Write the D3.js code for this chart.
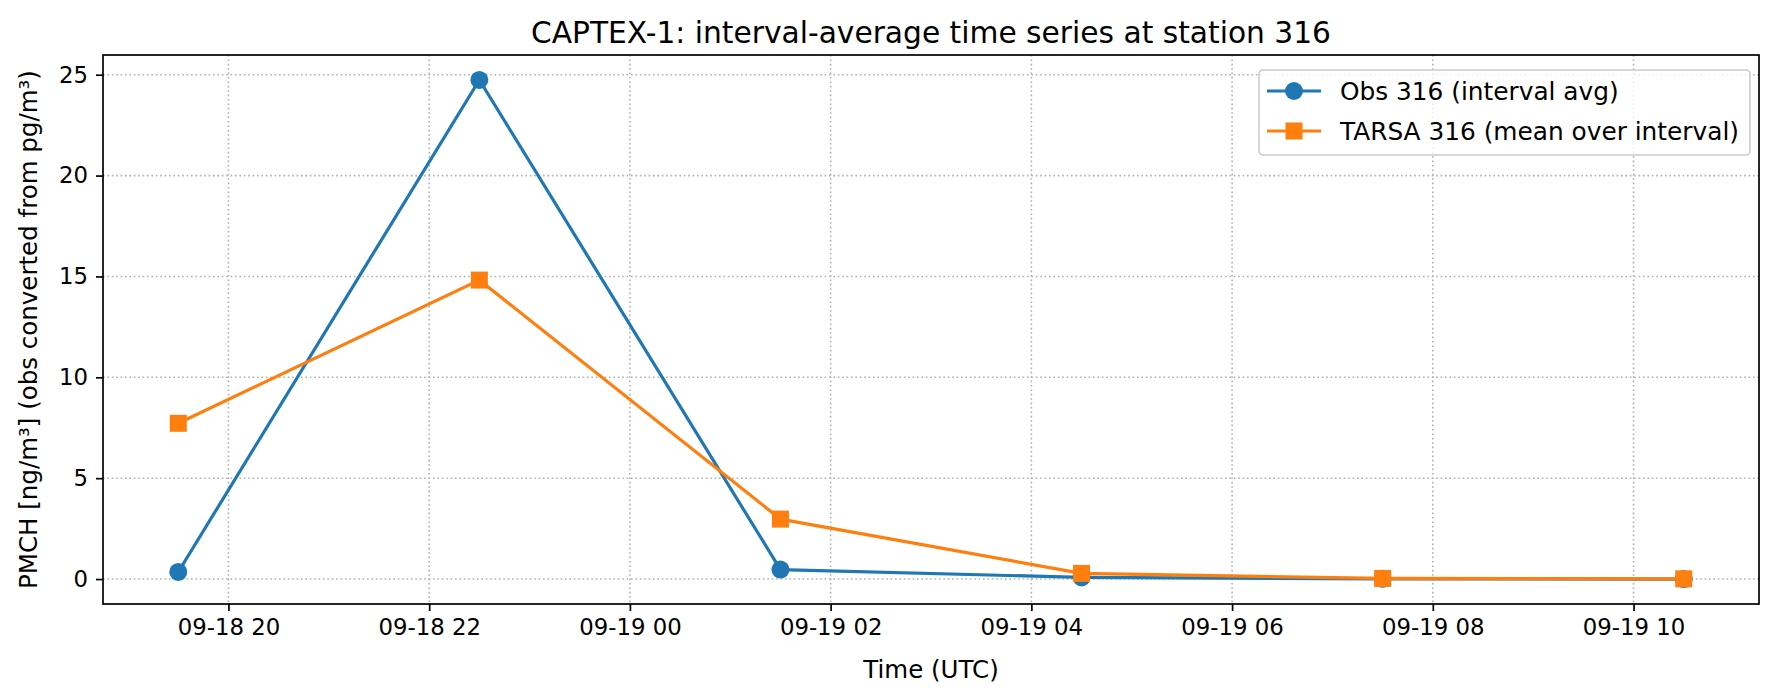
<!DOCTYPE html>
<html>
<head>
<meta charset="utf-8">
<script src="https://cdn.jsdelivr.net/npm/d3@7"></script>
<style>
  body { margin: 0; background: #fff; }
  svg text { font-family: "DejaVu Sans", sans-serif; fill: #000; }
</style>
</head>
<body>
<svg id="chart" width="1780" height="700"></svg>
<script>
"use strict"

// interval midpoints (UTC)
const times = ["1983-09-18T19:30Z", "1983-09-18T22:30Z", "1983-09-19T01:30Z",
               "1983-09-19T04:30Z", "1983-09-19T07:30Z", "1983-09-19T10:30Z"]
const obsValues   = [0.35, 24.74, 0.47, 0.08, 0.01, 0.0]
const tarsaValues = [7.72, 14.82, 2.97, 0.28, 0.03, 0.01]
const yTicks = [0, 5, 10, 15, 20, 25]

const title  = "CAPTEX-1: interval-average time series at station 316"
const xLabel = "Time (UTC)"
const yLabel = "PMCH [ng/m³] (obs converted from pg/m³)"
const seriesNames = ["Obs 316 (interval avg)", "TARSA 316 (mean over interval)"]

const blue = "#1f77b4", orange = "#ff7f0e"

const svg = d3.select("#chart")
const m = {left: 103, right: 21, top: 55, bottom: 96}
const W = 1780, H = 700
const pw = W - m.left - m.right, ph = H - m.top - m.bottom

const dates = times.map(t => new Date(t))
const obs   = dates.map((d, i) => ({t: d, v: obsValues[i]}))
const tarsa = dates.map((d, i) => ({t: d, v: tarsaValues[i]}))

// matplotlib style 5% margins
const [t0, t1] = d3.extent(dates)
const tpad = (t1 - t0) * 0.05
const x = d3.scaleUtc().domain([new Date(+t0 - tpad), new Date(+t1 + tpad)]).range([0, pw])

const allV = obsValues.concat(tarsaValues)
const [v0, v1] = d3.extent(allV)
const vpad = (v1 - v0) * 0.05
const y = d3.scaleLinear().domain([v0 - vpad, v1 + vpad]).range([ph, 0])

const g = svg.append("g").attr("transform", `translate(${m.left},${m.top})`)

const xTicks = x.ticks(d3.utcHour.every(2)).filter(d => d >= x.domain()[0] && d <= x.domain()[1])

// grid
const grid = g.append("g").attr("class", "grid")
grid.selectAll("line.gx").data(xTicks).enter().append("line")
    .attr("x1", d => x(d)).attr("x2", d => x(d)).attr("y1", 0).attr("y2", ph)
grid.selectAll("line.gy").data(yTicks).enter().append("line")
    .attr("x1", 0).attr("x2", pw).attr("y1", d => y(d)).attr("y2", d => y(d))
grid.selectAll("line").attr("stroke", "#b0b0b0").attr("stroke-width", 1.6)
    .attr("stroke-dasharray", "1.6,2.8")

// series
const line = d3.line().x(d => x(d.t)).y(d => y(d.v))

g.append("path").datum(obs).attr("d", line)
    .attr("fill", "none").attr("stroke", blue).attr("stroke-width", 3.2)
g.selectAll("circle.obs").data(obs).enter().append("circle")
    .attr("cx", d => x(d.t)).attr("cy", d => y(d.v)).attr("r", 9).attr("fill", blue)

g.append("path").datum(tarsa).attr("d", line)
    .attr("fill", "none").attr("stroke", orange).attr("stroke-width", 3.2)
g.selectAll("rect.tarsa").data(tarsa).enter().append("rect")
    .attr("x", d => x(d.t) - 8.5).attr("y", d => y(d.v) - 8.5)
    .attr("width", 17).attr("height", 17).attr("fill", orange)

// axes
const xAxis = g.append("g").attr("transform", `translate(0,${ph})`)
    .call(d3.axisBottom(x).tickValues(xTicks).tickFormat(d3.utcFormat("%m-%d %H")).tickSize(7).tickPadding(8))
const yAxis = g.append("g")
    .call(d3.axisLeft(y).tickValues(yTicks).tickSize(7).tickPadding(8))
;[xAxis, yAxis].forEach(a => {
    a.select(".domain").remove()
    a.selectAll(".tick line").attr("stroke", "#000").attr("stroke-width", 1.7)
    a.selectAll(".tick text").attr("font-size", 22.8).attr("font-family", "DejaVu Sans")
})

g.append("rect").attr("width", pw).attr("height", ph)
    .attr("fill", "none").attr("stroke", "#000").attr("stroke-width", 1.7)

// labels
svg.append("text").attr("x", m.left + pw / 2).attr("y", 43)
    .attr("text-anchor", "middle").attr("font-size", 29.7).text(title)
svg.append("text").attr("x", m.left + pw / 2).attr("y", 678)
    .attr("text-anchor", "middle").attr("font-size", 24.5).text(xLabel)
svg.append("text").attr("transform", `translate(37,${m.top + ph / 2}) rotate(-90)`)
    .attr("text-anchor", "middle").attr("font-size", 24.5).text(yLabel)

// legend
const lg = g.append("g").attr("transform", `translate(${pw - 500},${15})`)
lg.append("rect").attr("width", 491).attr("height", 85).attr("rx", 4)
    .attr("fill", "#fff").attr("fill-opacity", 0.8).attr("stroke", "#cccccc").attr("stroke-width", 1.6)
const items = lg.selectAll("g.item").data(seriesNames).enter().append("g")
    .attr("transform", (d, i) => `translate(0,${21 + i * 40})`)
items.append("line").attr("x1", 8).attr("x2", 62)
    .attr("stroke", (d, i) => i ? orange : blue).attr("stroke-width", 3.2)
items.filter((d, i) => i == 0).append("circle").attr("cx", 35).attr("r", 9).attr("fill", blue)
items.filter((d, i) => i == 1).append("rect").attr("x", 26.5).attr("y", -8.5)
    .attr("width", 17).attr("height", 17).attr("fill", orange)
items.append("text").attr("x", 81).attr("dy", "0.35em").attr("font-size", 24.8).text(d => d)
</script>
</body>
</html>
